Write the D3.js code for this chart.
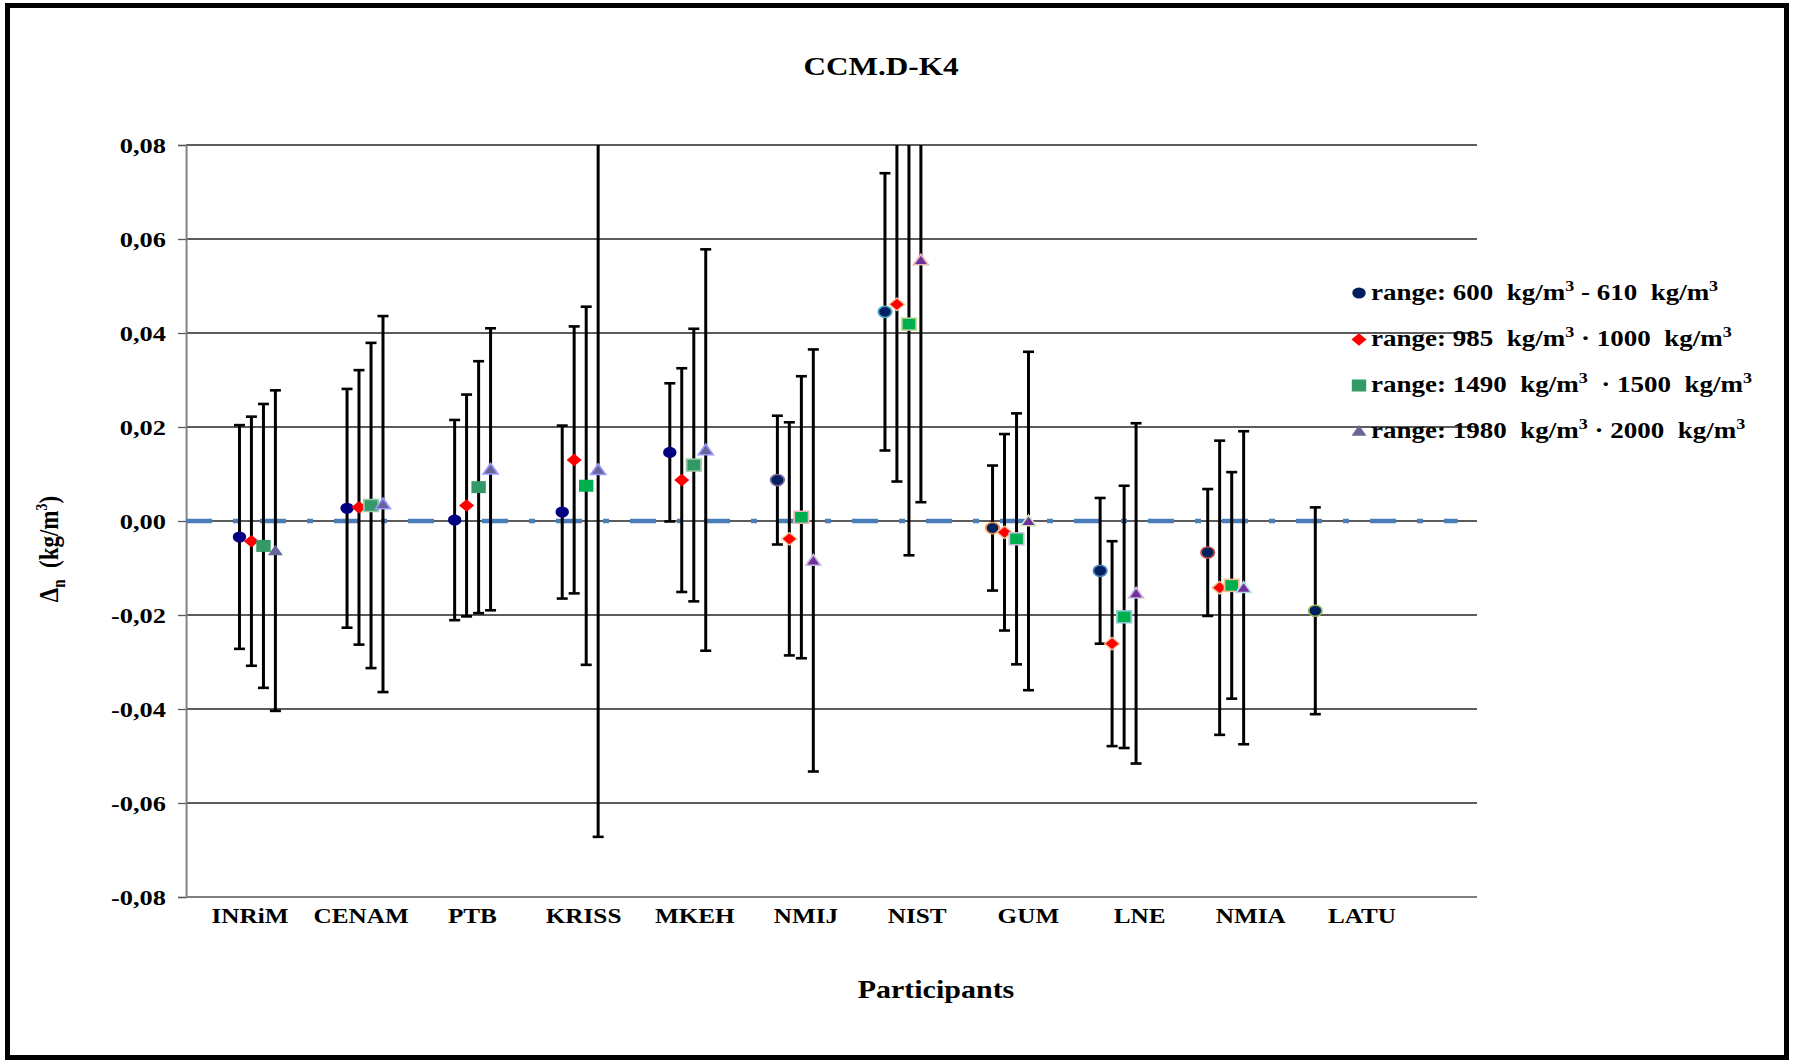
<!DOCTYPE html>
<html><head><meta charset="utf-8">
<script src="https://cdn.jsdelivr.net/npm/d3@7"></script>
<style>
body{margin:0;background:#fff;}
svg{display:block;}
text{font-family:"Liberation Serif","Times New Roman",serif;font-weight:bold;fill:#000;white-space:pre;}
</style>
</head><body>
<svg id="chart" width="1794" height="1061"></svg>
<script>
// ---------------- data ----------------
const title = "CCM.D-K4";
const participants = ["INRiM","CENAM","PTB","KRISS","MKEH","NMIJ","NIST","GUM","LNE","NMIA","LATU"];
const seriesLabels = [
  ["range: 600  kg/m","3"," - 610  kg/m","3"],
  ["range: 985  kg/m","3"," · 1000  kg/m","3"],
  ["range: 1490  kg/m","3","  · 1500  kg/m","3"],
  ["range: 1980  kg/m","3"," · 2000  kg/m","3"]
];
// deviations Δn (kg/m3) and expanded uncertainties
const range600   = [-0.0034, 0.0027, 0.0002, 0.0019, 0.0146, 0.0087, 0.0445, -0.0015, -0.0106, -0.0067, -0.0191];
const u600       = [ 0.0238, 0.0254, 0.0213, 0.0184, 0.0147, 0.0137, 0.0295,  0.0133,  0.0155,  0.0135,  0.0220];
const range1000  = [-0.0043, 0.0029, 0.0033, 0.0130, 0.0087, -0.0038, 0.0461, -0.0024, -0.0261, -0.0142, null];
const u1000      = [ 0.0265, 0.0292, 0.0236, 0.0284, 0.0238,  0.0248, 0.0377,  0.0209,  0.0218,  0.0313, null];
const range1500  = [-0.0053, 0.0033, 0.0072, 0.0075, 0.0119, 0.0008, 0.0419, -0.0038, -0.0204, -0.0137, null];
const u1500      = [ 0.0302, 0.0346, 0.0268, 0.0381, 0.0290, 0.0300, 0.0492,  0.0267,  0.0279,  0.0241, null];
const range2000  = [-0.0063, 0.0036, 0.0110, 0.0109, 0.0151, -0.0084, 0.0555, 0.0000, -0.0154, -0.0142, null];
const u2000      = [ 0.0341, 0.0400, 0.0300, 0.0781, 0.0427,  0.0449, 0.0515, 0.0360,  0.0362,  0.0333, null];
const yTicks = [-0.08,-0.06,-0.04,-0.02,0,0.02,0.04,0.06,0.08];
const yDomain = [-0.08, 0.08];

// ---------------- styles ----------------
const circleStroke = ["none","none","none","none","none","#8064a2","#4bacc6","#f79646","#4f81bd","#c0504d","#9bbb59"];
const squareFill   = ["#339966","#339966","#339966","#00b050","#339966","#00b050","#00b050","#00b050","#00b050","#00b050"];
const squareStroke = ["none","#99ccaa","none","none","#99ccaa","#e6b9b8","#c3d69b","#ccc0da","#93cddd","#fac090"];
const triFill      = ["#666699","#666699","#666699","#666699","#666699","#7030a0","#7030a0","#7030a0","#7030a0","#7030a0"];
const triStroke    = ["none","#9999ff","#9999ff","#9999ff","#9999ff","#ccc0da","#e6b9b8","#d7e4bd","#ccc0da","#b7dee8"];

// ---------------- layout ----------------
const SX = 1.2;               // horizontal stretch of the original picture
const vx = v => v / SX;
const plot = {left:186, right:1477, top:145, bottom:897};

const svg = d3.select("#chart");
svg.append("rect").attr("x",7.5).attr("y",5.5).attr("width",1779).attr("height",1052)
  .attr("fill","none").attr("stroke","#000").attr("stroke-width",5);

const g = svg.append("g").attr("transform",`scale(${SX},1)`);

const x = d3.scaleLinear().domain([0,12]).range([vx(plot.left), vx(plot.right)]);
const y = d3.scaleLinear().domain(yDomain).range([plot.bottom, plot.top]);
const catPos = i => i + 0.664;
const seriesOffset = [-0.167,-0.056,0.056,0.167];
const labelX = d3.scalePoint().domain(participants).range([vx(250), vx(1362)]);

const loc = d3.formatLocale({decimal:",",thousands:".",grouping:[3],currency:["",""],minus:"-"});
const fmt = loc.format(".2f");

// gridlines
g.append("g").selectAll("line").data(yTicks.filter(t=>t>yDomain[0])).join("line")
  .attr("x1",x(0)).attr("x2",x(12)).attr("y1",d=>y(d)).attr("y2",d=>y(d))
  .attr("stroke","#262626").attr("stroke-width",1.4);

// y axis
const yAxis = d3.axisLeft(y).tickValues(yTicks).tickFormat(fmt).tickSize(8/SX).tickPadding(12/SX);
const ya = g.append("g").attr("transform",`translate(${x(0)},0)`).call(yAxis);
ya.select(".domain").attr("stroke","#7f7f7f").attr("stroke-width",1.6);
ya.selectAll(".tick line").attr("stroke","#595959").attr("stroke-width",1.3);
ya.selectAll(".tick text").attr("font-size",22).attr("font-family",'"Liberation Serif",serif').attr("font-weight","bold").attr("fill","#000");

// x axis line
g.append("line").attr("x1",x(0)).attr("x2",x(12)).attr("y1",y(yDomain[0])).attr("y2",y(yDomain[0]))
  .attr("stroke","#7f7f7f").attr("stroke-width",2);

// reference zero line (dash-dot)
g.append("line").attr("x1",x(0)).attr("x2",x(11.82)).attr("y1",y(0)).attr("y2",y(0))
  .attr("stroke","#4a7ebb").attr("stroke-width",4.5)
  .attr("stroke-dasharray",`${26/SX} ${21/SX} ${6/SX} ${21/SX}`);

// series
const series = [
  {vals:range600,  unc:u600,  shape:"circle"},
  {vals:range1000, unc:u1000, shape:"diamond"},
  {vals:range1500, unc:u1500, shape:"square"},
  {vals:range2000, unc:u2000, shape:"triangle"}
];
const pts = [];
series.forEach((s,k)=>{
  s.vals.forEach((v,i)=>{
    if(v===null) return;
    pts.push({k, i, v, u:s.unc[i], shape:s.shape, xp:x(catPos(i)+seriesOffset[k])});
  });
});

const capW = 5.5/SX;
const eb = g.append("g");
pts.forEach(p=>{
  const hi = p.v + p.u, lo = p.v - p.u;
  eb.append("line").attr("x1",p.xp).attr("x2",p.xp)
    .attr("y1",y(Math.min(hi,yDomain[1]))).attr("y2",y(Math.max(lo,yDomain[0])))
    .attr("stroke","#000").attr("stroke-width",3/SX);
  [hi,lo].forEach(e=>{
    if(e<=yDomain[1] && e>=yDomain[0]){
      eb.append("line").attr("x1",p.xp-capW).attr("x2",p.xp+capW).attr("y1",y(e)).attr("y2",y(e))
        .attr("stroke","#000").attr("stroke-width",2.6);
    }
  });
});

function drawMarker(sel, shape, cx, cy, fill, stroke){
  if(shape==="circle"){
    sel.append("ellipse").attr("cx",cx).attr("cy",cy).attr("rx",5.6).attr("ry",5.6)
      .attr("fill",fill).attr("stroke",stroke).attr("stroke-width",1.5);
  } else if(shape==="diamond"){
    const r=6.3;
    sel.append("path").attr("d",`M${cx},${cy-r}L${cx+r},${cy}L${cx},${cy+r}L${cx-r},${cy}Z`)
      .attr("fill",fill).attr("stroke",stroke).attr("stroke-width",1.2);
  } else if(shape==="square"){
    const r=6;
    sel.append("rect").attr("x",cx-r).attr("y",cy-r).attr("width",2*r).attr("height",2*r)
      .attr("fill",fill).attr("stroke",stroke).attr("stroke-width",1.5);
  } else {
    const r=6.2;
    sel.append("path").attr("d",`M${cx},${cy-r*0.95}L${cx+r},${cy+r*0.75}L${cx-r},${cy+r*0.75}Z`)
      .attr("fill",fill).attr("stroke",stroke).attr("stroke-width",1.5);
  }
}
const mk = g.append("g");
pts.forEach(p=>{
  let fill, stroke="none";
  if(p.shape==="circle"){ fill = p.i<5 ? "#000080" : "#002060"; stroke=circleStroke[p.i]; }
  else if(p.shape==="diamond"){ fill="#ff0000"; stroke = p.i>=5 ? "#f2c49b" : "none"; }
  else if(p.shape==="square"){ fill=squareFill[p.i]; stroke=squareStroke[p.i]; }
  else { fill=triFill[p.i]; stroke=triStroke[p.i]; }
  drawMarker(mk, p.shape, p.xp, y(p.v), fill, stroke);
});

// category labels
g.append("g").selectAll("text").data(participants).join("text")
  .attr("x",d=>labelX(d)).attr("y",923).attr("text-anchor","middle").attr("font-size",21).text(d=>d);

// title
g.append("text").attr("x",vx(881)).attr("y",75).attr("text-anchor","middle").attr("font-size",26).text(title);

// x axis title
g.append("text").attr("x",vx(936)).attr("y",998).attr("text-anchor","middle").attr("font-size",25).text("Participants");

// y axis title
const yt = g.append("text").attr("transform",`translate(${vx(58)},549) rotate(-90)`).attr("text-anchor","middle").attr("font-size",23);
yt.append("tspan").text("Δ");
yt.append("tspan").attr("font-size",15).attr("dy",6).text("n");
yt.append("tspan").attr("dy",-6).text("  (kg/m");
yt.append("tspan").attr("font-size",14).attr("dy",-9).text("3");
yt.append("tspan").attr("dy",9).text(")");

// legend
const legendRowsY = [293, 339.5, 385.5, 431];
const legendShapes = ["circle","diamond","square","triangle"];
const legendFill = ["#002060","#ff0000","#339966","#666699"];
const lg = g.append("g");
legendRowsY.forEach((ly,k)=>{
  drawMarker(lg, legendShapes[k], vx(1359), ly, legendFill[k], "none");
  const t = lg.append("text").attr("x",vx(1371)).attr("y",ly+7).attr("font-size",22.5);
  const parts = seriesLabels[k];
  t.append("tspan").text(parts[0]);
  t.append("tspan").attr("font-size",15).attr("dy",-9).text(parts[1]);
  t.append("tspan").attr("dy",9).text(parts[2]);
  t.append("tspan").attr("font-size",15).attr("dy",-9).text(parts[3]);
});
</script>
</body></html>
